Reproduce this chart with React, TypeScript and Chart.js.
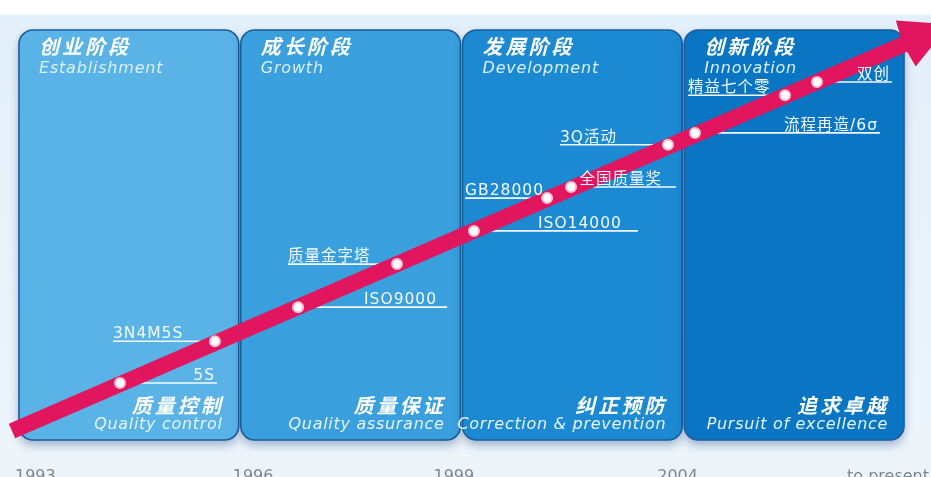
import React, { useEffect, useRef } from 'react';
import { Chart, registerables } from 'chart.js';

Chart.register(...registerables);

// ---- data ----
const stageNamesZh = ['创业阶段', '成长阶段', '发展阶段', '创新阶段'];
const stageNamesEn = ['Establishment', 'Growth', 'Development', 'Innovation'];
const focusZh = ['质量控制', '质量保证', '纠正预防', '追求卓越'];
const focusEn = ['Quality control', 'Quality assurance', 'Correction & prevention', 'Pursuit of excellence'];
const yearLabels = ['1993', '1996', '1999', '2004', 'to present'];

const milestones = ['5S', '3N4M5S', 'ISO9000', '质量金字塔', 'ISO14000', 'GB28000', '全国质量奖', '3Q活动', '流程再造/6σ', '精益七个零', '双创'];
// position along the stage axis (0..4 = stage boundaries) and level (0..100)
const milestoneStage = [0.46, 0.888, 1.263, 1.709, 2.056, 2.386, 2.494, 2.931, 3.053, 3.459, 3.603];
const milestoneLevel = [13.9, 24.1, 32.4, 42.9, 51.0, 59.0, 61.7, 72.0, 74.9, 84.1, 87.3];

const trendStage = [-0.027, 4.02];
const trendLevel = [2.2, 97.1];

const LEVEL_MIN = 0;
const LEVEL_MAX = 100;

// ---- styles / layout ----
const PANEL_COLORS = ['#5ab3e7', '#3a9fdd', '#1b8ad3', '#0a76c3'];
const LEADER_PX = [97, 102, 149, 109, 164, 82, 105, 108, 185, 97, 75];
const TEXT_INSET = [2, 0, 10, 0, 16, 0, 14, 0, 2, 0, 2];
const YEAR_DX = [-3, -7, -28, -26, -58];
const SANS = '"DejaVu Sans", "Noto Sans CJK SC", sans-serif';
const ARROW = '#e2165e';

const infoPlugin = {
  id: 'infographic',
  beforeDraw(chart: any) {
    const { ctx, width, height } = chart;
    ctx.save();
    const g = ctx.createLinearGradient(0, 0, 0, height);
    g.addColorStop(0, '#ffffff');
    g.addColorStop(0.026, '#ffffff');
    g.addColorStop(0.034, '#e3eff9');
    g.addColorStop(1, '#edf5fb');
    ctx.fillStyle = g;
    ctx.fillRect(0, 0, width, height);
    ctx.restore();
  },
  beforeDatasetsDraw(chart: any) {
    const { ctx } = chart;
    const xs = chart.scales.x;
    const ys = chart.scales.y;
    const top = ys.getPixelForValue(LEVEL_MAX);
    const bottom = ys.getPixelForValue(LEVEL_MIN);

    stageNamesZh.forEach((name, i) => {
      const l = xs.getPixelForValue(i) + 1;
      const r = xs.getPixelForValue(i + 1) - 1;
      ctx.save();
      ctx.shadowColor = 'rgba(10,50,110,0.35)';
      ctx.shadowBlur = 10;
      ctx.shadowOffsetY = 5;
      ctx.beginPath();
      ctx.roundRect(l, top, r - l, bottom - top, 14);
      ctx.fillStyle = PANEL_COLORS[i];
      ctx.fill();
      ctx.restore();

      ctx.save();
      ctx.beginPath();
      ctx.roundRect(l, top, r - l, bottom - top, 14);
      ctx.lineWidth = 1.6;
      ctx.strokeStyle = '#1c5c9b';
      ctx.stroke();
      ctx.restore();

      ctx.save();
      ctx.fillStyle = '#ffffff';
      ctx.textAlign = 'left';
      ctx.textBaseline = 'middle';
      (ctx as any).letterSpacing = '3px';
      ctx.font = `italic bold 20px ${SANS}`;
      ctx.fillText(name, l + 20, top + 19);
      ctx.textBaseline = 'alphabetic';
      (ctx as any).letterSpacing = '0.8px';
      ctx.font = `italic 16px ${SANS}`;
      ctx.fillStyle = '#dcf0fc';
      ctx.fillText(stageNamesEn[i], l + 20, top + 43);

      ctx.textAlign = 'right';
      ctx.fillStyle = '#ffffff';
      ctx.textBaseline = 'middle';
      (ctx as any).letterSpacing = '3px';
      ctx.font = `italic bold 20px ${SANS}`;
      ctx.fillText(focusZh[i], r - 15, bottom - 32);
      ctx.textBaseline = 'alphabetic';
      (ctx as any).letterSpacing = '0.7px';
      ctx.font = `italic 16px ${SANS}`;
      ctx.fillStyle = '#e6f4fd';
      ctx.fillText(focusEn[i], r - 16, bottom - 11);
      ctx.restore();
    });

    // leader lines
    milestones.forEach((_, i) => {
      const px = xs.getPixelForValue(milestoneStage[i]);
      const py = ys.getPixelForValue(milestoneLevel[i]);
      const x2 = i % 2 === 0 ? px + LEADER_PX[i] : px - LEADER_PX[i];
      ctx.save();
      ctx.strokeStyle = '#f4faff';
      ctx.lineWidth = 1.6;
      ctx.beginPath();
      ctx.moveTo(px, py);
      ctx.lineTo(x2, py);
      ctx.stroke();
      ctx.restore();
    });

    // year labels
    ctx.save();
    ctx.fillStyle = '#7d8791';
    ctx.font = `16px ${SANS}`;
    ctx.textBaseline = 'alphabetic';
    ctx.textAlign = 'left';
    yearLabels.forEach((t, i) => {
      ctx.fillText(t, xs.getPixelForValue(i) + YEAR_DX[i], bottom + 41);
    });
    ctx.restore();
  },
  afterDatasetsDraw(chart: any) {
    const { ctx } = chart;
    const xs = chart.scales.x;
    const ys = chart.scales.y;

    // arrow head
    const meta = chart.getDatasetMeta(0);
    const p0 = meta.data[0];
    const p1 = meta.data[meta.data.length - 1];
    const dx = p1.x - p0.x;
    const dy = p1.y - p0.y;
    const len = Math.hypot(dx, dy);
    const ux = dx / len;
    const uy = dy / len;
    const nx = -uy;
    const ny = ux;
    const bx = p1.x - ux * 4;
    const by = p1.y - uy * 4;
    const L = 48;
    const H = 25;
    ctx.save();
    ctx.fillStyle = ARROW;
    ctx.beginPath();
    ctx.moveTo(bx + nx * H, by + ny * H);
    ctx.lineTo(bx + ux * L, by + uy * L);
    ctx.lineTo(bx - nx * H, by - ny * H);
    ctx.lineTo(bx - ux * 3, by - uy * 3);
    ctx.closePath();
    ctx.fill();
    ctx.restore();

    // milestone labels
    milestones.forEach((label, i) => {
      const px = xs.getPixelForValue(milestoneStage[i]);
      const py = ys.getPixelForValue(milestoneLevel[i]);
      const right = i % 2 === 0;
      const x2 = right ? px + LEADER_PX[i] : px - LEADER_PX[i];
      ctx.save();
      ctx.fillStyle = '#f4faff';
      ctx.font = `15.5px ${SANS}`;
      (ctx as any).letterSpacing = '1px';
      ctx.textBaseline = 'alphabetic';
      if (right) {
        ctx.textAlign = 'right';
        ctx.fillText(label, x2 - TEXT_INSET[i], py - 3);
      } else {
        ctx.textAlign = 'left';
        ctx.fillText(label, x2 + TEXT_INSET[i], py - 3);
      }
      ctx.restore();
    });
  },
};

export default function App() {
  const ref = useRef<HTMLCanvasElement | null>(null);

  useEffect(() => {
    document.body.style.margin = '0';
    const canvas = ref.current;
    if (!canvas) return;
    const chart = new Chart(canvas, {
      type: 'scatter',
      data: {
        datasets: [
          {
            label: 'trend',
            data: trendStage.map((s, i) => ({ x: s, y: trendLevel[i] })),
            showLine: true,
            borderColor: ARROW,
            borderWidth: 16,
            borderCapStyle: 'butt',
            pointRadius: 0,
            order: 2,
          } as any,
          {
            label: 'milestones',
            data: milestoneStage.map((s, i) => ({ x: s, y: milestoneLevel[i] })),
            pointRadius: 5,
            pointBackgroundColor: '#ffffff',
            pointBorderColor: '#f6bfd2',
            pointBorderWidth: 2,
            order: 1,
          } as any,
        ],
      },
      options: {
        animation: false,
        responsive: false,
        layout: { padding: 0, autoPadding: false },
        plugins: { legend: { display: false }, tooltip: { enabled: false } },
        scales: {
          x: { type: 'linear', min: -0.0812, max: 4.1172, display: false },
          y: { type: 'linear', min: -9.024, max: 107.317, display: false },
        },
      },
      plugins: [infoPlugin],
    });
    return () => chart.destroy();
  }, []);

  return (
    <div style={{ width: 931, height: 477 }}>
      <canvas ref={ref} width={931} height={477} style={{ display: 'block' }} />
    </div>
  );
}
